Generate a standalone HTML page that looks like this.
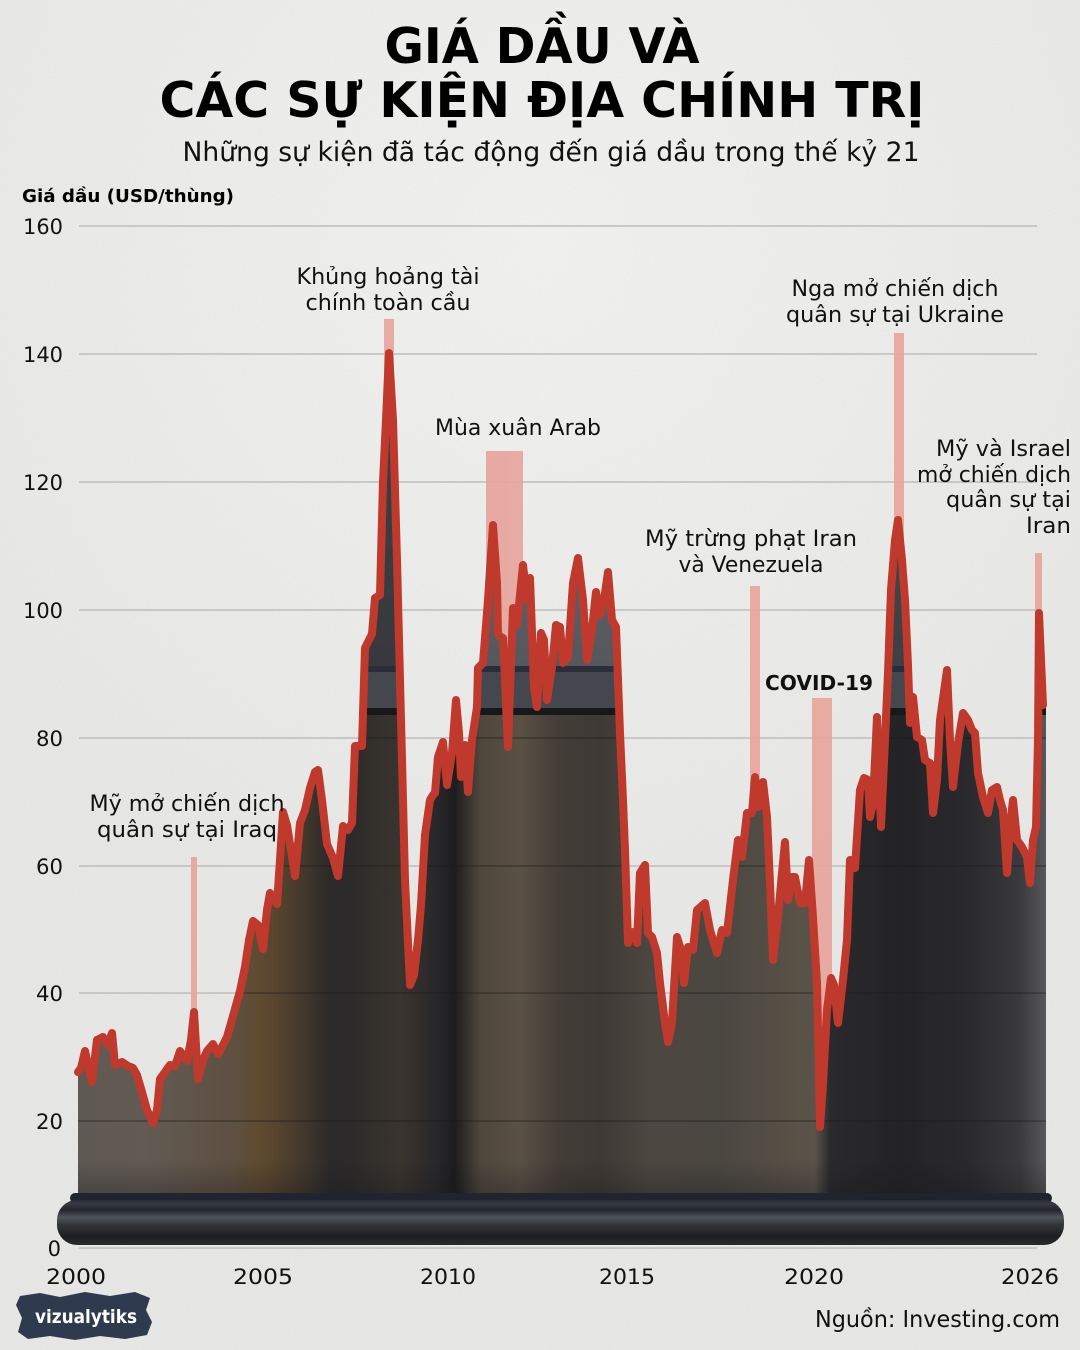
<!DOCTYPE html>
<html><head><meta charset="utf-8">
<style>
html,body{margin:0;padding:0;width:1080px;height:1350px;overflow:hidden;background:#e8e8e6}
svg{display:block}
</style></head>
<body>
<svg width="1080" height="1350" viewBox="0 0 1080 1350" xmlns="http://www.w3.org/2000/svg">
<defs>
  <filter id="paper" x="0" y="0" width="100%" height="100%">
    <feTurbulence type="fractalNoise" baseFrequency="0.9" numOctaves="2" seed="3" result="n"/>
    <feColorMatrix type="matrix" values="0 0 0 0 0.5  0 0 0 0 0.5  0 0 0 0 0.5  0 0 0 -0.9 0.55"/>
  </filter>
  <radialGradient id="bgGlow" cx="540" cy="250" r="700" gradientUnits="userSpaceOnUse">
    <stop offset="0" stop-color="#f1f1f0"/>
    <stop offset="1" stop-color="#e7e7e5"/>
  </radialGradient>
  <linearGradient id="body" x1="78" y1="0" x2="1046" y2="0" gradientUnits="userSpaceOnUse">
    <stop offset="0" stop-color="#5e5953"/>
    <stop offset="0.070" stop-color="#625b53"/>
    <stop offset="0.159" stop-color="#5e5041"/>
    <stop offset="0.190" stop-color="#5f4a30"/>
    <stop offset="0.229" stop-color="#463a2c"/>
    <stop offset="0.260" stop-color="#2b2a2b"/>
    <stop offset="0.281" stop-color="#2c2a2a"/>
    <stop offset="0.333" stop-color="#3a342e"/>
    <stop offset="0.372" stop-color="#27272a"/>
    <stop offset="0.389" stop-color="#1c1c1e"/>
    <stop offset="0.415" stop-color="#4f463c"/>
    <stop offset="0.457" stop-color="#5a5044"/>
    <stop offset="0.498" stop-color="#433d37"/>
    <stop offset="0.539" stop-color="#3e3934"/>
    <stop offset="0.591" stop-color="#4c4740"/>
    <stop offset="0.663" stop-color="#4b4741"/>
    <stop offset="0.736" stop-color="#575146"/>
    <stop offset="0.761" stop-color="#5a5349"/>
    <stop offset="0.777" stop-color="#2a2a2d"/>
    <stop offset="0.849" stop-color="#232326"/>
    <stop offset="0.921" stop-color="#2a2a2e"/>
    <stop offset="0.973" stop-color="#3a3a3d"/>
    <stop offset="1" stop-color="#58585a"/>
  </linearGradient>
  <linearGradient id="topFill" x1="0" y1="340" x2="0" y2="666" gradientUnits="userSpaceOnUse">
    <stop offset="0" stop-color="#707278"/>
    <stop offset="1" stop-color="#55575d"/>
  </linearGradient>
  <linearGradient id="bottomShade" x1="0" y1="1160" x2="0" y2="1200" gradientUnits="userSpaceOnUse">
    <stop offset="0" stop-color="#141418" stop-opacity="0"/>
    <stop offset="1" stop-color="#141418" stop-opacity="0.35"/>
  </linearGradient>
  <linearGradient id="rim" x1="0" y1="1198" x2="0" y2="1246" gradientUnits="userSpaceOnUse">
    <stop offset="0" stop-color="#22252d"/>
    <stop offset="0.12" stop-color="#363a43"/>
    <stop offset="0.25" stop-color="#24262c"/>
    <stop offset="0.40" stop-color="#4f535b"/>
    <stop offset="0.55" stop-color="#34363c"/>
    <stop offset="0.80" stop-color="#1d1e21"/>
    <stop offset="1" stop-color="#2b2c30"/>
  </linearGradient>
  <clipPath id="areaClip">
    <polygon points="78,1072 81,1068 85,1051 89,1070 92,1082 97,1040 103,1037 108,1045 112,1033 115,1065 122,1062 128,1066 133,1068 137,1075 142,1092 147,1110 153,1123 157,1110 160,1079 165,1072 170,1065 175,1066 180,1051 187,1061 191,1040 194,1012 198,1079 203,1060 207,1051 213,1044 218,1054 223,1045 227,1037 233,1016 240,991 245,967 249,940 253,921 258,925 263,949 267,910 270,893 274,900 277,904 280,860 283,812 287,825 290,844 295,876 300,823 305,810 310,788 315,772 318,770 322,800 327,844 333,858 338,876 343,826 348,830 352,823 355,746 362,746 365,648 369,640 372,634 375,598 380,595 383,482 386,420 389,353 393,420 397,560 401,720 405,880 410,985 414,975 418,940 421,905 425,835 430,800 433,795 435,793 438,757 443,742 447,785 452,753 456,700 459,733 461,777 465,745 468,792 472,740 477,707 478,668 483,663 488,600 493,525 497,583 498,635 503,638 508,747 513,608 517,625 523,565 527,600 530,578 534,687 537,707 541,633 544,640 547,700 552,667 556,625 560,627 563,663 568,657 573,583 578,558 583,600 587,660 592,630 596,592 600,615 604,600 608,572 612,620 616,627 620,733 623,800 625,850 628,943 633,932 637,943 640,873 645,865 648,933 652,937 657,953 660,983 665,1023 668,1042 672,1023 677,937 681,950 684,983 688,947 693,950 697,910 705,903 710,930 717,953 722,930 727,933 733,880 738,840 742,857 747,813 752,813 755,777 758,807 763,782 767,817 770,883 773,960 778,917 782,873 785,842 788,900 792,877 795,877 800,903 805,903 809,860 813,917 817,983 820,1127 823,1083 827,1010 831,978 834,985 838,1023 843,980 847,940 850,860 855,868 860,790 864,778 868,780 870,817 873,803 877,717 881,827 885,740 888,673 891,590 895,540 898,520 902,560 905,600 908,665 910,723 913,697 917,737 922,740 925,760 930,763 933,813 937,780 940,720 947,670 950,740 953,787 958,743 963,713 968,720 972,730 975,733 978,773 983,797 988,813 992,790 997,787 1000,800 1003,810 1007,873 1010,827 1013,800 1017,840 1022,847 1027,857 1030,883 1033,840 1036,827 1038,740 1039,613 1041,660 1043,705 1046,705 1046,1200 78,1200"/>
  </clipPath>
</defs>

<!-- background -->
<rect x="0" y="0" width="1080" height="1350" fill="url(#bgGlow)"/>
<rect x="0" y="0" width="1080" height="1350" filter="url(#paper)" opacity="0.3"/>

<!-- gridlines -->
<g stroke="#bdbdbd" stroke-width="1.5">
  <line x1="79" y1="226" x2="1037" y2="226"/>
  <line x1="79" y1="354" x2="1037" y2="354"/>
  <line x1="79" y1="482" x2="1037" y2="482"/>
  <line x1="79" y1="610" x2="1037" y2="610"/>
  <line x1="79" y1="738" x2="1037" y2="738"/>
  <line x1="79" y1="866" x2="1037" y2="866"/>
  <line x1="79" y1="993" x2="1037" y2="993"/>
  <line x1="79" y1="1121" x2="1037" y2="1121"/>
  <line x1="79" y1="1248" x2="1037" y2="1248"/>
</g>

<!-- event bars -->
<g fill="#e6a59c" opacity="0.92">
  <rect x="191" y="857" width="6" height="343"/>
  <rect x="384" y="319" width="10" height="881"/>
  <rect x="486" y="451" width="37" height="749"/>
  <rect x="750" y="586" width="10" height="614"/>
  <rect x="812" y="698" width="20" height="502"/>
  <rect x="894" y="333" width="10" height="867"/>
  <rect x="1035" y="553" width="7" height="647"/>
</g>

<!-- barrel body -->
<g clip-path="url(#areaClip)">
  <rect x="78" y="300" width="968" height="900" fill="url(#body)"/>
  <rect x="78" y="300" width="968" height="366" fill="url(#topFill)"/>
  <rect x="355" y="300" width="50" height="366" fill="#2f2f33" opacity="0.75"/>
  <rect x="880" y="300" width="40" height="366" fill="#2f3034" opacity="0.6"/>
  <rect x="78" y="666" width="968" height="6" fill="#2b2e3a"/>
  <rect x="78" y="672" width="968" height="36" fill="#45474e"/>
  <rect x="78" y="708" width="968" height="7" fill="#17181a"/>
  <rect x="78" y="1160" width="968" height="40" fill="url(#bottomShade)"/>
  <g stroke="#1a1a1a" stroke-width="1.2" opacity="0.5">
    <line x1="78" y1="738" x2="1046" y2="738"/>
    <line x1="78" y1="866" x2="1046" y2="866"/>
    <line x1="78" y1="993" x2="1046" y2="993"/>
    <line x1="78" y1="1121" x2="1046" y2="1121"/>
  </g>
</g>

<!-- barrel rim -->
<rect x="70" y="1193" width="982" height="10" rx="5" fill="#1f2430"/>
<rect x="57" y="1200" width="1007" height="45" rx="20" fill="url(#rim)"/>

<!-- price line -->
<polyline fill="none" stroke="#bf3a2c" stroke-width="8" stroke-linejoin="round" stroke-linecap="round"
 points="78,1072 81,1068 85,1051 89,1070 92,1082 97,1040 103,1037 108,1045 112,1033 115,1065 122,1062 128,1066 133,1068 137,1075 142,1092 147,1110 153,1123 157,1110 160,1079 165,1072 170,1065 175,1066 180,1051 187,1061 191,1040 194,1012 198,1079 203,1060 207,1051 213,1044 218,1054 223,1045 227,1037 233,1016 240,991 245,967 249,940 253,921 258,925 263,949 267,910 270,893 274,900 277,904 280,860 283,812 287,825 290,844 295,876 300,823 305,810 310,788 315,772 318,770 322,800 327,844 333,858 338,876 343,826 348,830 352,823 355,746 362,746 365,648 369,640 372,634 375,598 380,595 383,482 386,420 389,353 393,420 397,560 401,720 405,880 410,985 414,975 418,940 421,905 425,835 430,800 433,795 435,793 438,757 443,742 447,785 452,753 456,700 459,733 461,777 465,745 468,792 472,740 477,707 478,668 483,663 488,600 493,525 497,583 498,635 503,638 508,747 513,608 517,625 523,565 527,600 530,578 534,687 537,707 541,633 544,640 547,700 552,667 556,625 560,627 563,663 568,657 573,583 578,558 583,600 587,660 592,630 596,592 600,615 604,600 608,572 612,620 616,627 620,733 623,800 625,850 628,943 633,932 637,943 640,873 645,865 648,933 652,937 657,953 660,983 665,1023 668,1042 672,1023 677,937 681,950 684,983 688,947 693,950 697,910 705,903 710,930 717,953 722,930 727,933 733,880 738,840 742,857 747,813 752,813 755,777 758,807 763,782 767,817 770,883 773,960 778,917 782,873 785,842 788,900 792,877 795,877 800,903 805,903 809,860 813,917 817,983 820,1127 823,1083 827,1010 831,978 834,985 838,1023 843,980 847,940 850,860 855,868 860,790 864,778 868,780 870,817 873,803 877,717 881,827 885,740 888,673 891,590 895,540 898,520 902,560 905,600 908,665 910,723 913,697 917,737 922,740 925,760 930,763 933,813 937,780 940,720 947,670 950,740 953,787 958,743 963,713 968,720 972,730 975,733 978,773 983,797 988,813 992,790 997,787 1000,800 1003,810 1007,873 1010,827 1013,800 1017,840 1022,847 1027,857 1030,883 1033,840 1036,827 1038,740 1039,613 1041,660 1043,705"/>

<!-- titles -->
<g font-family="'DejaVu Sans','Liberation Sans',sans-serif" fill="#000">
  <text x="542" y="63" font-size="49" font-weight="bold" text-anchor="middle" textLength="315" lengthAdjust="spacingAndGlyphs">GIÁ DẦU VÀ</text>
  <text x="542" y="117" font-size="49" font-weight="bold" text-anchor="middle" textLength="765" lengthAdjust="spacingAndGlyphs">CÁC SỰ KIỆN ĐỊA CHÍNH TRỊ</text>
  <text x="551" y="161" font-size="27" text-anchor="middle" textLength="737" lengthAdjust="spacingAndGlyphs" fill="#111">Những sự kiện đã tác động đến giá dầu trong thế kỷ 21</text>
  <text x="22" y="202" font-size="18" font-weight="bold" textLength="212" lengthAdjust="spacingAndGlyphs">Giá dầu (USD/thùng)</text>
</g>

<!-- y tick labels -->
<g font-family="'DejaVu Sans','Liberation Sans',sans-serif" font-size="21" fill="#111" text-anchor="end">
  <text x="63" y="234" textLength="40" lengthAdjust="spacingAndGlyphs">160</text>
  <text x="63" y="362" textLength="40" lengthAdjust="spacingAndGlyphs">140</text>
  <text x="63" y="490" textLength="40" lengthAdjust="spacingAndGlyphs">120</text>
  <text x="63" y="618" textLength="40" lengthAdjust="spacingAndGlyphs">100</text>
  <text x="63" y="746" textLength="27" lengthAdjust="spacingAndGlyphs">80</text>
  <text x="63" y="874" textLength="27" lengthAdjust="spacingAndGlyphs">60</text>
  <text x="63" y="1001" textLength="27" lengthAdjust="spacingAndGlyphs">40</text>
  <text x="63" y="1129" textLength="27" lengthAdjust="spacingAndGlyphs">20</text>
  <text x="61" y="1256">0</text>
</g>

<!-- x tick labels -->
<g font-family="'DejaVu Sans','Liberation Sans',sans-serif" font-size="21" fill="#111" text-anchor="middle">
  <text x="76" y="1284" textLength="60" lengthAdjust="spacingAndGlyphs">2000</text>
  <text x="263" y="1284" textLength="60" lengthAdjust="spacingAndGlyphs">2005</text>
  <text x="448" y="1284" textLength="56" lengthAdjust="spacingAndGlyphs">2010</text>
  <text x="627" y="1284" textLength="56" lengthAdjust="spacingAndGlyphs">2015</text>
  <text x="814" y="1284" textLength="60" lengthAdjust="spacingAndGlyphs">2020</text>
  <text x="1030" y="1284" textLength="58" lengthAdjust="spacingAndGlyphs">2026</text>
</g>

<!-- annotations -->
<g font-family="'DejaVu Sans','Liberation Sans',sans-serif" font-size="22" fill="#111" text-anchor="middle">
  <text x="187" y="811" textLength="195" lengthAdjust="spacingAndGlyphs">Mỹ mở chiến dịch</text>
  <text x="187" y="837" textLength="180" lengthAdjust="spacingAndGlyphs">quân sự tại Iraq</text>
  <text x="388" y="284" textLength="183" lengthAdjust="spacingAndGlyphs">Khủng hoảng tài</text>
  <text x="388" y="310" textLength="165" lengthAdjust="spacingAndGlyphs">chính toàn cầu</text>
  <text x="518" y="435" textLength="166" lengthAdjust="spacingAndGlyphs">Mùa xuân Arab</text>
  <text x="751" y="546" textLength="212" lengthAdjust="spacingAndGlyphs">Mỹ trừng phạt Iran</text>
  <text x="751" y="572" textLength="145" lengthAdjust="spacingAndGlyphs">và Venezuela</text>
  <text x="819" y="690" font-size="20" font-weight="bold" textLength="108" lengthAdjust="spacingAndGlyphs">COVID-19</text>
  <text x="895" y="296" textLength="207" lengthAdjust="spacingAndGlyphs">Nga mở chiến dịch</text>
  <text x="895" y="322" textLength="218" lengthAdjust="spacingAndGlyphs">quân sự tại Ukraine</text>
</g>
<g font-family="'DejaVu Sans','Liberation Sans',sans-serif" font-size="22" fill="#111" text-anchor="end">
  <text x="1071" y="456" textLength="135" lengthAdjust="spacingAndGlyphs">Mỹ và Israel</text>
  <text x="1071" y="482" textLength="154" lengthAdjust="spacingAndGlyphs">mở chiến dịch</text>
  <text x="1071" y="507" textLength="125" lengthAdjust="spacingAndGlyphs">quân sự tại</text>
  <text x="1071" y="533" textLength="45" lengthAdjust="spacingAndGlyphs">Iran</text>
</g>

<!-- source -->
<text x="1060" y="1327" font-family="'DejaVu Sans','Liberation Sans',sans-serif" font-size="23" fill="#111" text-anchor="end" textLength="245" lengthAdjust="spacingAndGlyphs">Nguồn: Investing.com</text>

<!-- logo -->
<polygon fill="#2e3a4e" points="20,1296 40,1293 60,1297 85,1292 110,1296 135,1292 150,1298 146,1310 152,1322 147,1335 125,1339 100,1336 75,1340 50,1336 28,1339 18,1332 22,1318 16,1305"/>
<text x="86" y="1323" font-family="'DejaVu Sans','Liberation Sans',sans-serif" font-size="19" font-weight="bold" fill="#ffffff" text-anchor="middle" textLength="102" lengthAdjust="spacingAndGlyphs">vizualytiks</text>
</svg>
</body></html>
